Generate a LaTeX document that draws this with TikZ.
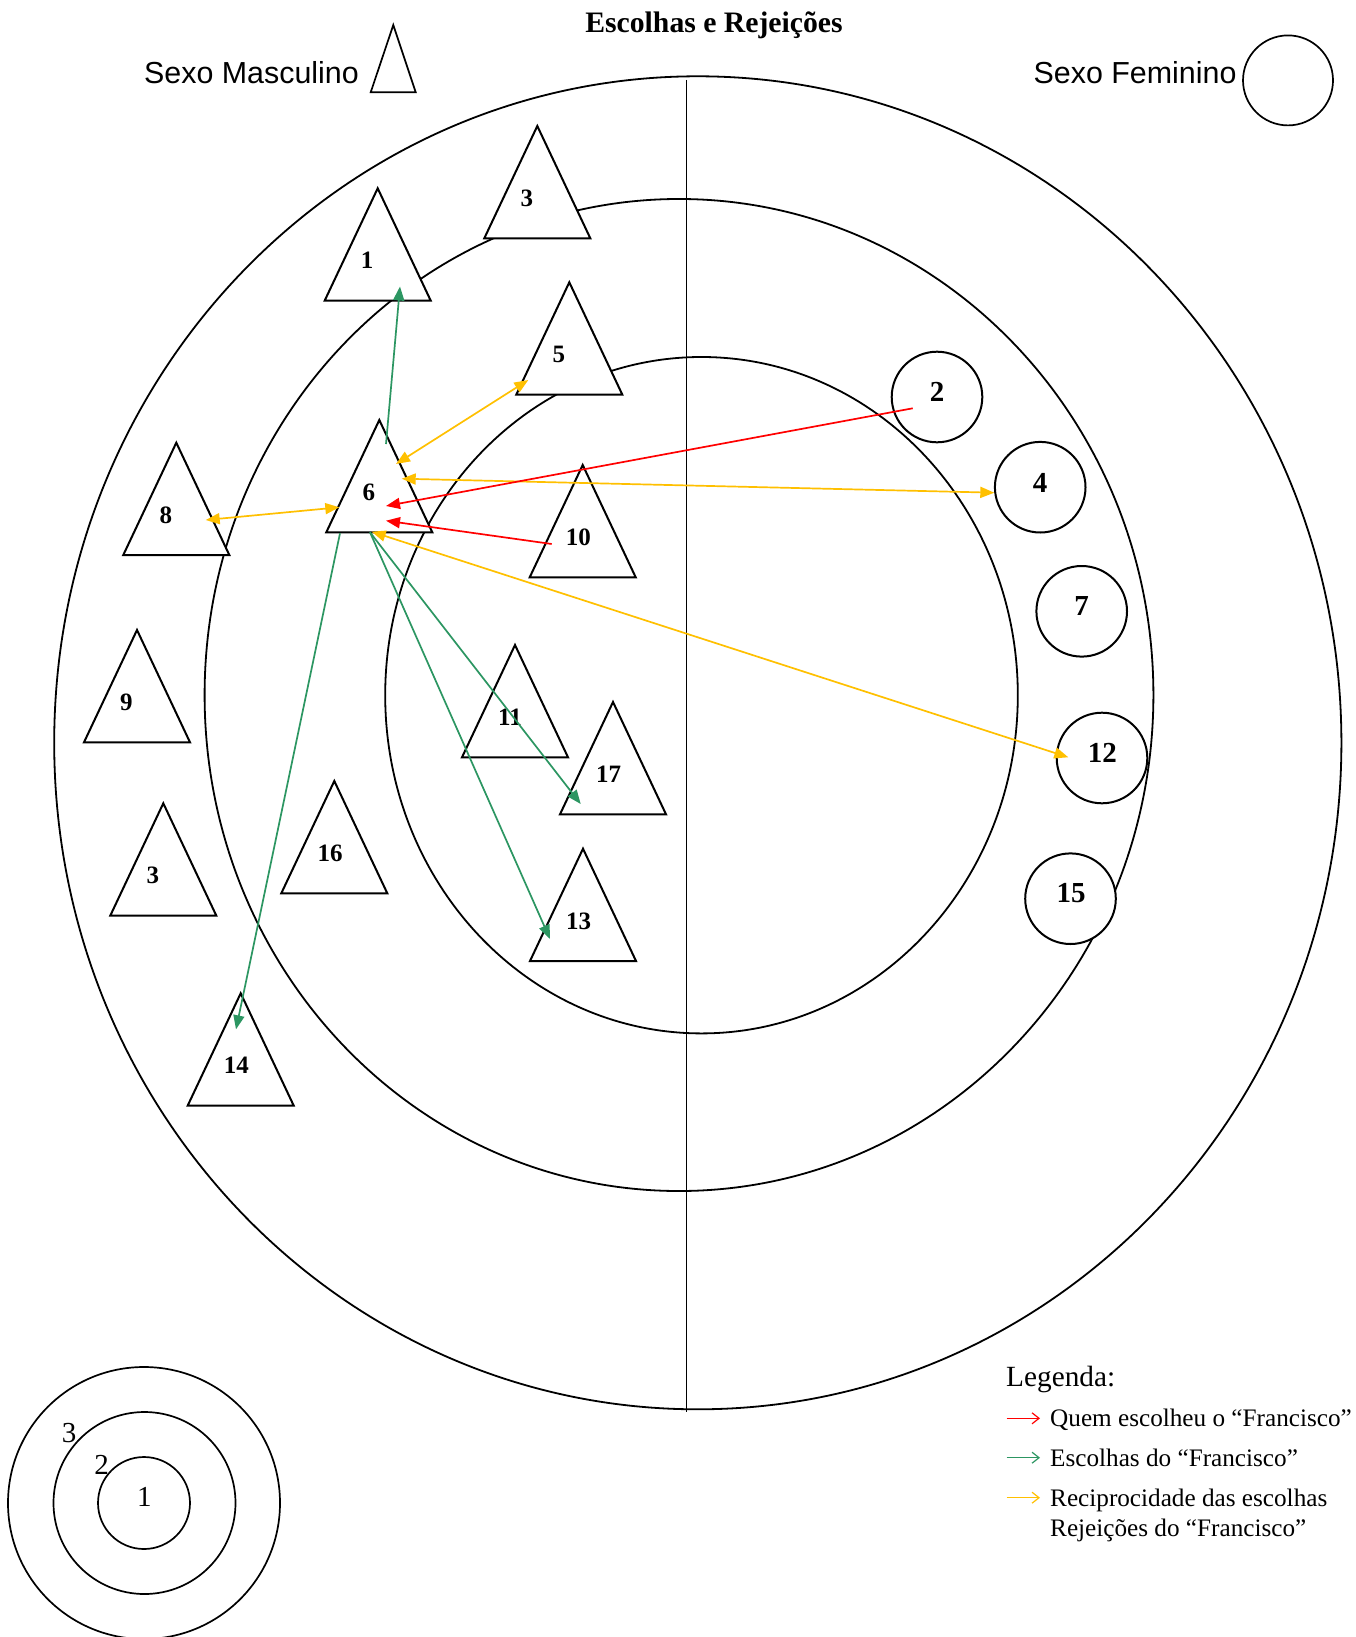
\documentclass[tikz,border=0pt]{standalone}
\usepackage{fontspec}
\setmainfont{Liberation Serif}
\newfontfamily\arialf{Liberation Sans}
\usetikzlibrary{arrows.meta}
\definecolor{myred}{RGB}{255,0,0}
\definecolor{mygreen}{RGB}{44,150,98}
\definecolor{myyellow}{RGB}{255,192,0}
\tikzset{
  ring/.style={line width=1.8pt},
  tri/.style={draw, fill=white, line width=2pt, line join=miter},
  tlab/.style={anchor=west, inner sep=0pt, font=\fontsize{25}{30}\selectfont\bfseries},
  fcirc/.style={circle, draw, fill=white, line width=2pt, minimum size=90.6pt, inner sep=0pt, outer sep=0pt},
  flab/.style={inner sep=0pt, font=\fontsize{29}{34}\selectfont\bfseries},
  redarr/.style={draw=myred, line width=1.7pt, -{Triangle[length=14pt,width=11pt]}},
  grnarr/.style={draw=mygreen, line width=1.7pt, -{Triangle[length=14pt,width=11pt]}},
  ylwarr/.style={draw=myyellow, line width=1.7pt, {Triangle[length=14pt,width=11pt]}-{Triangle[length=14pt,width=11pt]}},
  legarr/.style={line width=1.2pt, -{Straight Barb[length=7pt,width=11pt]}},
  legtxt/.style={anchor=base west, inner sep=0pt, font=\fontsize{25.2}{30}\selectfont},
  ringlab/.style={inner sep=0pt, font=\fontsize{29}{34}\selectfont},
}
\newcommand\mtri[4]{%
  \path[tri] (#2,#3) -- ++(53,112.3) -- ++(-106,0) -- cycle;
  \node[tlab] (#1) at ({#2-17},{#3+72.3}) {#4};}
\begin{document}
\begin{tikzpicture}[x=1pt,y=-1pt]
\useasboundingbox (0,0) rectangle (1355,1637);
\fill[white] (0,0) rectangle (1355,1637);

% title and key
\node[anchor=base, inner sep=0pt, font=\fontsize{29.7}{34}\selectfont\bfseries] (title) at (714,32.3) {Escolhas e Rejeições};
\node[anchor=base west, inner sep=0pt, font=\arialf\fontsize{30.4}{34}\selectfont] (masc) at (144,83.3) {Sexo Masculino};
\path[tri, line width=1.7pt] (393.3,25) -- (415.7,92.3) -- (370.7,92.3) -- cycle;
\node[anchor=base west, inner sep=0pt, font=\arialf\fontsize{30.4}{34}\selectfont] (fem) at (1033.5,83.3) {Sexo Feminino};
\node[fcirc, line width=1.7pt, minimum size=90pt] (femkey) at (1288,80.4) {};

% rings
\draw[ring] (697.8,742.8) ellipse [x radius=643.6, y radius=666.5];
\draw[ring] (679,695) ellipse [x radius=474.4, y radius=496];
\draw[ring] (701.5,695.2) ellipse [x radius=316.3, y radius=338.2];
\draw[line width=1.8pt] (686.5,80) -- (686.5,1411.5);

% male members
\mtri{m3a}{537.3}{126}{3}
\mtri{m1}{377.7}{188.3}{1}
\mtri{m5}{569.3}{282.3}{5}
\mtri{m6}{379.3}{420}{6}
\mtri{m8}{176.3}{442.7}{8}
\mtri{m10}{582.7}{465}{10}
\mtri{m9}{137}{630}{9}
\mtri{m11}{515}{645}{11}
\mtri{m17}{613}{702}{17}
\mtri{m3b}{163.3}{803.3}{3}
\mtri{m16}{334.3}{781}{16}
\mtri{m13}{583}{848.7}{13}
\mtri{m14}{240.7}{993.3}{14}

% female members
\node[fcirc] (f2) at (937,397) {};
\node[flab] (f2l) at (937,391.7) {2};
\node[fcirc] (f4) at (1040.2,487.2) {};
\node[flab] (f4l) at (1040,482.7) {4};
\node[fcirc] (f7) at (1081.7,611.3) {};
\node[flab] (f7l) at (1081.7,605.5) {7};
\node[fcirc] (f12) at (1102,758) {};
\node[flab] (f12l) at (1102.3,753.3) {12};
\node[fcirc] (f15) at (1070.5,898.7) {};
\node[flab] (f15l) at (1071,893.3) {15};

% connector end points
\coordinate (a6g1) at (386,444);
\coordinate (a1g) at (400,286.5);
\coordinate (a6g14) at (340,533.3);
\coordinate (a14g) at (236,1029.3);
\coordinate (a6g) at (370,532.3);
\coordinate (a17g) at (580.7,804);
\coordinate (a13g) at (550,939);
\coordinate (a6y5) at (396,464);
\coordinate (a5y) at (528.3,380);
\coordinate (a6y4) at (401.7,478.7);
\coordinate (a4y) at (994.3,492.7);
\coordinate (a6y8) at (339.3,507.3);
\coordinate (a8y) at (205.7,520);
\coordinate (a6y12) at (371.7,531.7);
\coordinate (a12y) at (1068.3,757.3);
\coordinate (a2r) at (912.7,408.3);
\coordinate (a6r2) at (386,506);
\coordinate (a10r) at (551.7,544);
\coordinate (a6r10) at (386,520.7);

% choices of Francisco
\draw[grnarr] (a6g1) -- (a1g);
\draw[grnarr] (a6g14) -- (a14g);
\draw[grnarr] (a6g) -- (a17g);
\draw[grnarr] (a6g) -- (a13g);
% reciprocity
\draw[ylwarr] (a6y5) -- (a5y);
\draw[ylwarr] (a6y4) -- (a4y);
\draw[ylwarr] (a6y8) -- (a8y);
\draw[ylwarr] (a6y12) -- (a12y);
% who chose Francisco
\draw[redarr] (a2r) -- (a6r2);
\draw[redarr] (a10r) -- (a6r10);

% legend
\node[anchor=base west, inner sep=0pt, font=\fontsize{29.3}{34}\selectfont] (leg) at (1006,1386) {Legenda:};
\coordinate (l1s) at (1006.7,1418.3); \coordinate (l1e) at (1040,1418.3);
\coordinate (l2s) at (1006.7,1457.7); \coordinate (l2e) at (1040,1457.7);
\coordinate (l3s) at (1006.7,1497.7); \coordinate (l3e) at (1040,1497.7);
\draw[legarr, draw=myred] (l1s) -- (l1e);
\draw[legarr, draw=mygreen] (l2s) -- (l2e);
\draw[legarr, draw=myyellow] (l3s) -- (l3e);
\node[legtxt] (lt1) at (1050,1426.7) {Quem escolheu o “Francisco”};
\node[legtxt] (lt2) at (1050,1466.7) {Escolhas do “Francisco”};
\node[legtxt] (lt3) at (1050,1506.7) {Reciprocidade das escolhas};
\node[legtxt] (lt4) at (1050,1536) {Rejeições do “Francisco”};

% ring key
\node[circle, draw, line width=1.7pt, minimum size=272pt, inner sep=0pt] (k3) at (144,1503) {};
\node[circle, draw, line width=1.7pt, minimum size=182pt, inner sep=0pt] (k2) at (144.5,1503) {};
\node[circle, draw, line width=1.7pt, minimum size=92pt, inner sep=0pt] (k1) at (144,1503) {};
\node[ringlab] (k3l) at (69,1433.3) {3};
\node[ringlab] (k2l) at (101.7,1465) {2};
\node[ringlab] (k1l) at (144.3,1496.7) {1};
\end{tikzpicture}
\end{document}
